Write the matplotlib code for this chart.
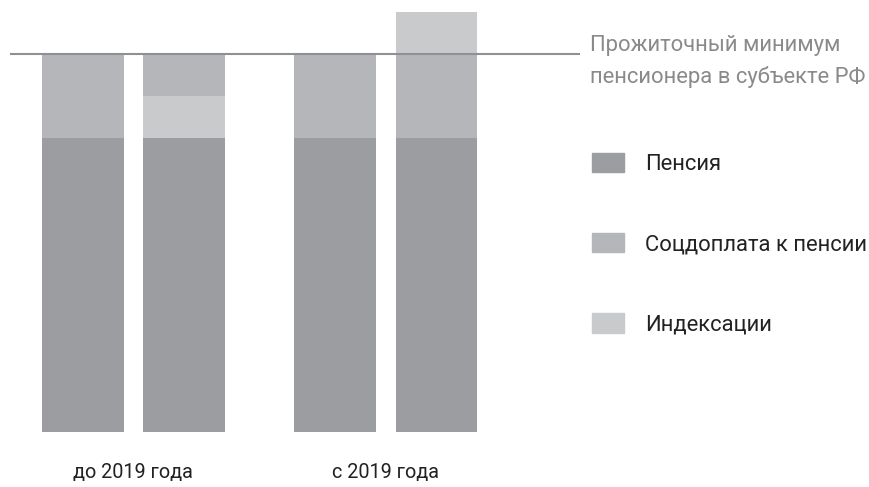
import matplotlib.pyplot as plt
from matplotlib.patches import Patch

plt.rcParams['font.family'] = ['Roboto', 'DejaVu Sans']

groups = ["до 2019 года", "с 2019 года"]
positions = [0, 1, 2.5, 3.5]
pension = [7, 7, 7, 7]
indexation_low = [0, 1, 0, 0]
supplement = [2, 1, 2, 2]
indexation_top = [0, 0, 0, 1]
minimum = 9
legend_labels = ["Пенсия", "Соцдоплата к пенсии", "Индексации"]
title_lines = ["Прожиточный минимум", "пенсионера в субъекте РФ"]

c_pension = '#9c9da1'
c_supp = '#b5b6ba'
c_index = '#c9cacc'

fig = plt.figure(figsize=(8.7, 4.87), dpi=100)
ax = fig.add_axes([10 / 870, (487 - 432) / 487, 570 / 870, 432 / 487])

w = 0.81
bottom = [0] * 4
ax.bar(positions, pension, w, bottom=bottom, color=c_pension)
bottom = [b + v for b, v in zip(bottom, pension)]
ax.bar(positions, indexation_low, w, bottom=bottom, color=c_index)
bottom = [b + v for b, v in zip(bottom, indexation_low)]
ax.bar(positions, supplement, w, bottom=bottom, color=c_supp)
bottom = [b + v for b, v in zip(bottom, supplement)]
ax.bar(positions, indexation_top, w, bottom=bottom, color=c_index)

ax.axhline(minimum, color='#8f9093', lw=1.5, zorder=3)

ax.set_xlim(-0.72, 4.92)
ax.set_ylim(0, 432 / 42)
ax.set_xticks([(positions[0] + positions[1]) / 2, (positions[2] + positions[3]) / 2])
ax.set_xticklabels(groups, fontsize=14.3, color='#222222')
ax.tick_params(axis='x', length=0, pad=22)
ax.set_yticks([])
for s in ax.spines.values():
    s.set_visible(False)

fig.text(590 / 870, 1 - 45 / 487, title_lines[0], fontsize=15.8, color='#8a8a8a', va='center')
fig.text(590 / 870, 1 - 77 / 487, title_lines[1], fontsize=15.8, color='#8a8a8a', va='center')

handles = [Patch(color=c) for c in (c_pension, c_supp, c_index)]
fig.legend(handles, legend_labels, loc='upper left', bbox_to_anchor=(592 / 870, 1 - 152.5 / 487),
           frameon=False, fontsize=15.8, handlelength=1.46, handleheight=1.0,
           handletextpad=0.96, labelspacing=2.64, borderpad=0, borderaxespad=0,
           labelcolor='#222222')

fig.savefig('out.png', dpi=100)
